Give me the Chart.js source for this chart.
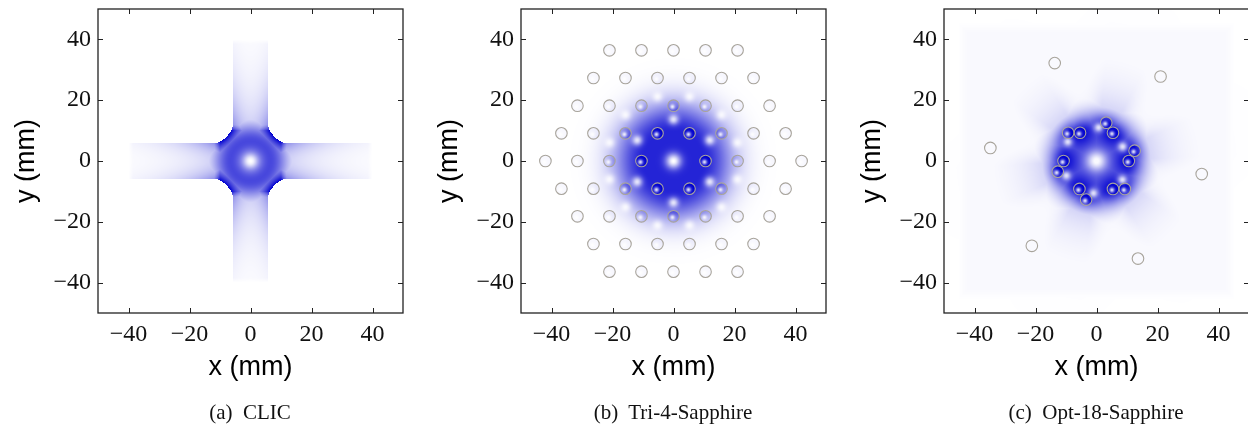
<!DOCTYPE html>
<html>
<head>
<meta charset="utf-8">
<script src="https://cdn.jsdelivr.net/npm/chart.js@4.4.1/dist/chart.umd.min.js"></script>
<style>
  html, body { margin: 0; padding: 0; background: #fff; overflow: hidden; }
  body { width: 1248px; height: 428px; position: relative; }
  .panel { position: absolute; top: 0; width: 414px; height: 428px; }
  .panel canvas { position: absolute; left: 0; top: 0; }
  .caption {
    position: absolute; top: 400px; left: 250px; transform: translateX(-50%);
    font: 21px "Liberation Serif", serif; line-height: 24px; color: #111; white-space: pre;
  }
</style>
</head>
<body>
<div class="panel" style="left:0px"><canvas id="clic" width="414" height="428"></canvas><div class="caption">(a)  CLIC</div></div>
<div class="panel" style="left:423px"><canvas id="tri4" width="414" height="428"></canvas><div class="caption">(b)  Tri-4-Sapphire</div></div>
<div class="panel" style="left:846px"><canvas id="opt18" width="414" height="428"></canvas><div class="caption">(c)  Opt-18-Sapphire</div></div>
<script>
// ==============================
// Data (mm)
// ==============================
const TICK_VALUES = [-40, -20, 0, 20, 40];
const AXIS_MIN = -50;
const AXIS_MAX = 50;
const HOLE_RADIUS = 1.9;

// (a) CLIC cross: arm half-width, arm length, corner cut-out circles
const CLIC_ARM_HALF_WIDTH = 5.8;
const CLIC_ARM_LENGTH = 40;
const CLIC_CUT_CENTER = 14;
const CLIC_CUT_RADIUS = 8.6;

// (b) Tri-4-Sapphire: hexagonal lattice, one row per y
const TRI4_ROW_Y = [36.4, 27.3, 18.2, 9.1, 0, -9.1, -18.2, -27.3, -36.4];
const TRI4_ROW_X = [
  [-21, -10.5, 0, 10.5, 21],
  [-26.25, -15.75, -5.25, 5.25, 15.75, 26.25],
  [-31.5, -21, -10.5, 0, 10.5, 21, 31.5],
  [-36.75, -26.25, -15.75, -5.25, 5.25, 15.75, 26.25, 36.75],
  [-42, -31.5, -21, -10.5, 10.5, 21, 31.5, 42],
  [-36.75, -26.25, -15.75, -5.25, 5.25, 15.75, 26.25, 36.75],
  [-31.5, -21, -10.5, 0, 10.5, 21, 31.5],
  [-26.25, -15.75, -5.25, 5.25, 15.75, 26.25],
  [-21, -10.5, 0, 10.5, 21]
];
// field minima between the lattice holes
const TRI4_GAP_X = [0, 11.9, 11.9, 0, -11.9, -11.9, 5.25, -5.25, 5.25, -5.25, 15.75, -15.75, 15.75, -15.75, 21, -21, 21, -21];
const TRI4_GAP_Y = [13.7, 6.85, -6.85, -13.7, -6.85, 6.85, 21.2, 21.2, -21.2, -21.2, 15.2, 15.2, -15.2, -15.2, 6.05, 6.05, -6.05, -6.05];

// (c) Opt-18-Sapphire: inner ring, shifted ring, outer ring
const OPT18_INNER_X = [10.6, 5.4, -5.4, -10.8, -5.6, 5.4];
const OPT18_INNER_Y = [0, 9.3, 9.3, 0, -9.2, -9.2];
const OPT18_SHIFT_X = [12.5, 3.2, -9.3, -12.7, -3.4, 9.3];
const OPT18_SHIFT_Y = [3.4, 12.6, 9.3, -3.5, -12.7, -9.2];
const OPT18_OUTER_X = [21.0, -13.7, -34.8, -21.2, 13.6, 34.5];
const OPT18_OUTER_Y = [27.8, 32.2, 4.3, -27.9, -32.1, -4.3];
const OPT18_GAP_X = [0.7, 8.6, -9.4, -9.9, -1.0, 8.5];
const OPT18_GAP_Y = [11.0, 4.7, 6.3, -4.8, -10.6, -6.2];

// ==============================
// Helpers
// ==============================
const toPoints = (xs, ys) => xs.map((x, i) => ({ x, y: ys[i] }));
const tri4Holes = [];
TRI4_ROW_Y.forEach((y, i) => TRI4_ROW_X[i].forEach(x => tri4Holes.push({ x, y })));
const tri4Gaps = toPoints(TRI4_GAP_X, TRI4_GAP_Y);
const opt18Inner = toPoints(OPT18_INNER_X, OPT18_INNER_Y);
const opt18Shift = toPoints(OPT18_SHIFT_X, OPT18_SHIFT_Y);
const opt18Outer = toPoints(OPT18_OUTER_X, OPT18_OUTER_Y);
const opt18Gaps = toPoints(OPT18_GAP_X, OPT18_GAP_Y);
const opt18Holes = opt18Inner.concat(opt18Shift, opt18Outer);
const opt18Ring = opt18Inner.concat(opt18Shift);

const clamp01 = v => Math.min(1, Math.max(0, v));
const centreDip = (r, s) => 1 - Math.exp(-(r * r) / (2 * s * s));

function shade(v) {
  v = clamp01(v);
  return [255 * (1 - v), 255 * (1 - v), 255 - 48 * v];
}

// darker inside a hole, with a soft bright spot near the middle
function applyHoles(v, x, y, holes, gain) {
  for (const h of holes) {
    const dx = x - h.x, dy = y - h.y;
    const d2 = dx * dx + dy * dy;
    if (d2 < HOLE_RADIUS * HOLE_RADIUS) {
      v = Math.min(1, v * gain + 0.03);
      const sx = dx + 0.35, sy = dy + 0.35;
      v *= 1 - 0.85 * Math.exp(-(sx * sx + sy * sy) / (2 * 0.6 * 0.6));
    }
  }
  return v;
}

function applyGaps(v, x, y, gaps, size, depth) {
  for (const g of gaps) {
    const dx = x - g.x, dy = y - g.y;
    v *= 1 - depth * Math.exp(-(dx * dx + dy * dy) / (2 * size * size));
  }
  return v;
}

function nearest(x, y, pts) {
  let best = Infinity;
  for (const p of pts) best = Math.min(best, Math.hypot(x - p.x, y - p.y));
  return best;
}

function angDiff(a, b) {
  let d = a - b;
  while (d > Math.PI) d -= 2 * Math.PI;
  while (d < -Math.PI) d += 2 * Math.PI;
  return d;
}

// ==============================
// Field models
// ==============================
function clicField(x, y) {
  const ax = Math.abs(x), ay = Math.abs(y);
  const W = CLIC_ARM_HALF_WIDTH, L = CLIC_ARM_LENGTH, C = CLIC_CUT_CENTER, R = CLIC_CUT_RADIUS;
  const inArm = (ay < W && ax < L) || (ax < W && ay < L);
  const dc = Math.hypot(ax - C, ay - C) - R;
  const inCore = ax < C && ay < C && dc > 0;
  if (!inArm && !inCore) return 0;
  const r = Math.hypot(x, y);
  const d = Math.max(ax, ay);
  const t = Math.min(ax, ay) / W;
  const fillet = 1.0 * Math.exp(-Math.max(0, dc) / 4.5) * Math.exp(-Math.max(0, d - 10) / 2.2);
  const ring = 0.72 * Math.exp(-((r - 6.5) * (r - 6.5)) / (2 * 4.2 * 4.2));
  const arm = 0.5 * Math.exp(-Math.max(0, d - 10) / 12) * (0.45 + 0.55 * t * t);
  let v = centreDip(r, 1.4) * Math.max(fillet, ring, arm);
  if (d > L - 1.5) v *= (L - d) / 1.5;
  return v;
}

function tri4Field(x, y) {
  const r = Math.hypot(x, y);
  let v = centreDip(r, 1.8) * 0.86 * Math.exp(-Math.pow(Math.max(0, r - 9.5), 2) / (2 * 7 * 7));
  v = applyGaps(v, x, y, tri4Gaps, 1.2, 0.85);
  return applyHoles(v, x, y, tri4Holes, 1.3);
}

const opt18RayAngles = opt18Ring.map(p => Math.atan2(p.y, p.x));

function opt18Field(x, y) {
  const r = Math.hypot(x, y);
  const th = Math.atan2(y, x);
  const envelope = Math.exp(-Math.pow(Math.max(0, r - 10), 2) / (2 * 4.5 * 4.5));
  const near = Math.exp(-Math.pow(nearest(x, y, opt18Ring), 2) / (2 * 3.2 * 3.2));
  const core = centreDip(r, 2.4) * envelope * (0.66 + 0.32 * near);
  let s = 0;
  for (const a of opt18RayAngles) {
    const d = angDiff(th, a + 0.1);
    s += Math.exp(-(d * d) / (2 * 0.14 * 0.14));
  }
  const halo = 0.36 * Math.exp(-Math.max(0, r - 11) / 8.5) * (0.25 + 0.75 * Math.min(1, s)) * clamp01((r - 5) / 5);
  let v = Math.max(core, halo);
  // faint haze over the simulated square
  const edge = Math.max(Math.abs(x), Math.abs(y));
  v = Math.max(v, 0.022 * clamp01((45.5 - edge) / 3));
  v = applyGaps(v, x, y, opt18Gaps, 1.1, 0.85);
  return applyHoles(v, x, y, opt18Ring, 1.3);
}

// ==============================
// Plugins
// ==============================
// paints the field under the holes, pixel by pixel through the scales
function fieldPlugin(fn) {
  let cache = null;
  return {
    id: 'fieldMap',
    beforeDatasetsDraw(chart) {
      const a = chart.chartArea;
      const left = Math.round(a.left), top = Math.round(a.top);
      const w = Math.round(a.right) - left, h = Math.round(a.bottom) - top;
      if (!cache) {
        const off = document.createElement('canvas');
        off.width = w; off.height = h;
        const octx = off.getContext('2d');
        const img = octx.createImageData(w, h);
        const xs = chart.scales.x, ys = chart.scales.y;
        for (let j = 0; j < h; j++) {
          const yv = ys.getValueForPixel(top + j + 0.5);
          for (let i = 0; i < w; i++) {
            const xv = xs.getValueForPixel(left + i + 0.5);
            const c = shade(fn(xv, yv));
            const k = (j * w + i) * 4;
            img.data[k] = c[0]; img.data[k + 1] = c[1]; img.data[k + 2] = c[2]; img.data[k + 3] = 255;
          }
        }
        octx.putImageData(img, 0, 0);
        cache = off;
      }
      chart.ctx.drawImage(cache, left, top);
    }
  };
}

// axes box with inward ticks on all four sides
const framePlugin = {
  id: 'frame',
  afterDraw(chart) {
    const { ctx, chartArea: a, scales: { x, y } } = chart;
    const TL = 5;
    ctx.save();
    ctx.strokeStyle = '#222';
    ctx.lineWidth = 1.3;
    ctx.strokeRect(a.left, a.top, a.right - a.left, a.bottom - a.top);
    ctx.lineWidth = 1;
    ctx.beginPath();
    TICK_VALUES.forEach(v => {
      const px = Math.round(x.getPixelForValue(v)) + 0.5;
      ctx.moveTo(px, a.bottom); ctx.lineTo(px, a.bottom - TL);
      ctx.moveTo(px, a.top); ctx.lineTo(px, a.top + TL);
      const py = Math.round(y.getPixelForValue(v)) + 0.5;
      ctx.moveTo(a.left, py); ctx.lineTo(a.left + TL, py);
      ctx.moveTo(a.right, py); ctx.lineTo(a.right - TL, py);
    });
    ctx.stroke();
    ctx.restore();
  }
};

// ==============================
// Charts
// ==============================
const tickLabel = v => (v < 0 ? '\u2212' + Math.abs(v) : String(v));
const tickFont = { family: '"Liberation Serif", serif', size: 24 };
const titleFont = { family: '"Liberation Sans", Arial, sans-serif', size: 27 };

function holeRadiusPx(ctx) {
  const s = ctx.chart.scales.x;
  return Math.abs(s.getPixelForValue(HOLE_RADIUS) - s.getPixelForValue(0));
}

function makePanel(id, holes, field) {
  return new Chart(document.getElementById(id), {
    type: 'scatter',
    data: {
      datasets: [{
        data: holes,
        pointRadius: holeRadiusPx,
        pointHoverRadius: holeRadiusPx,
        pointBorderColor: 'rgb(168,164,156)',
        pointBackgroundColor: 'rgba(0,0,0,0)',
        pointBorderWidth: 1.1
      }]
    },
    options: {
      responsive: false,
      animation: false,
      devicePixelRatio: 1,
      events: [],
      layout: { padding: { top: 9, right: 11, bottom: 0, left: 0 } },
      plugins: { legend: { display: false }, tooltip: { enabled: false } },
      scales: {
        x: {
          type: 'linear', min: AXIS_MIN, max: AXIS_MAX,
          afterBuildTicks: s => { s.ticks = TICK_VALUES.map(v => ({ value: v })); },
          afterFit: s => { s.height = 115; s.paddingLeft = 0; s.paddingRight = 0; },
          grid: { display: false, drawTicks: false },
          border: { display: false },
          ticks: { font: tickFont, color: '#111', padding: 7, maxRotation: 0, autoSkip: false, callback: tickLabel },
          title: { display: true, text: 'x (mm)', font: titleFont, color: '#000', padding: { top: 0, bottom: 44 } }
        },
        y: {
          type: 'linear', min: AXIS_MIN, max: AXIS_MAX,
          afterBuildTicks: s => { s.ticks = TICK_VALUES.map(v => ({ value: v })); },
          afterFit: s => { s.width = 98; s.paddingTop = 0; s.paddingBottom = 0; },
          grid: { display: false, drawTicks: false },
          border: { display: false },
          ticks: { font: tickFont, color: '#111', padding: 7, autoSkip: false, callback: tickLabel },
          title: { display: true, text: 'y (mm)', font: titleFont, color: '#000', padding: { top: 10, bottom: 0 } }
        }
      }
    },
    plugins: [fieldPlugin(field), framePlugin]
  });
}

makePanel('clic', [], clicField);
makePanel('tri4', tri4Holes, tri4Field);
makePanel('opt18', opt18Holes, opt18Field);
</script>
</body>
</html>
